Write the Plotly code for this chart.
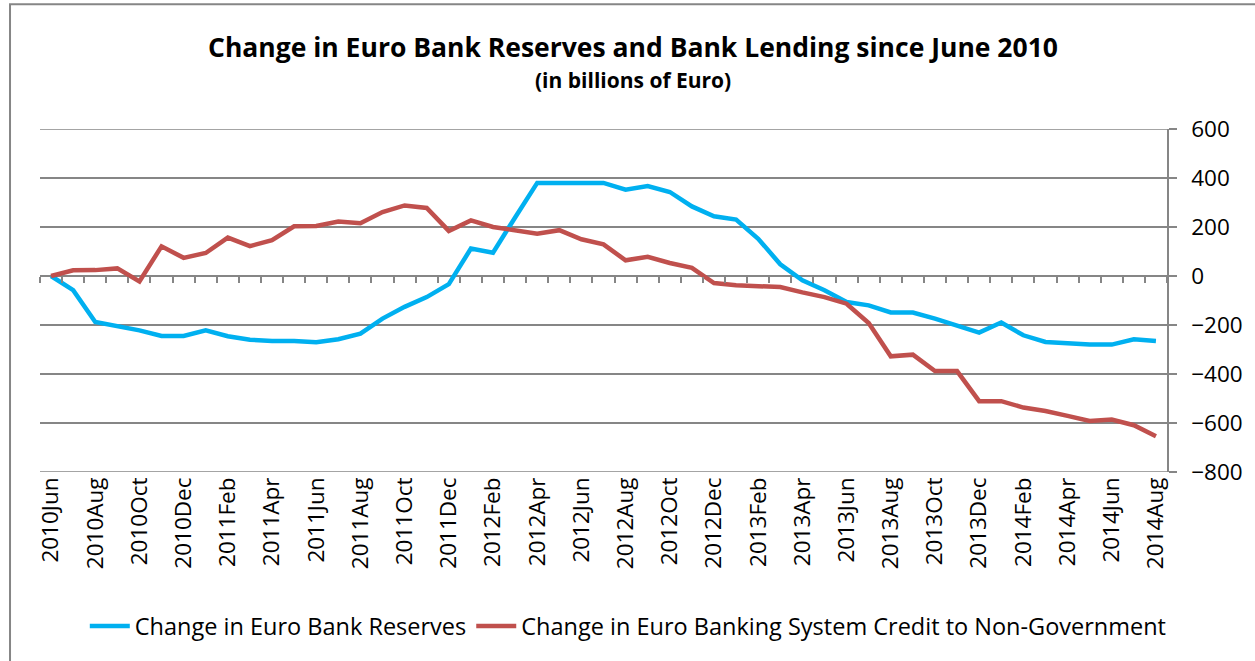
import plotly.graph_objects as go

months = ["Jun", "Jul", "Aug", "Sep", "Oct", "Nov", "Dec"] + \
    [m for y in range(3) for m in ["Jan", "Feb", "Mar", "Apr", "May", "Jun", "Jul", "Aug", "Sep", "Oct", "Nov", "Dec"]] + \
    ["Jan", "Feb", "Mar", "Apr", "May", "Jun", "Jul", "Aug"]
years = [2010] * 7 + [2011] * 12 + [2012] * 12 + [2013] * 12 + [2014] * 8
categories = [f"{y}{m}" for y, m in zip(years, months)]

reserves = [0, -58, -188, -204, -222, -245, -245, -222, -246, -260,
            -265, -265, -270, -258, -235, -174, -126, -86, -33, 112,
            95, 239, 380, 380, 380, 380, 352, 367, 343, 284,
            244, 230, 152, 48, -18, -58, -106, -120, -149, -149,
            -174, -204, -231, -190, -242, -269, -276, -280, -280, -258,
            -265]
credit = [0, 23, 24, 31, -22, 121, 74, 94, 157, 122,
          146, 203, 204, 222, 215, 261, 288, 278, 184, 227,
          200, 187, 173, 187, 150, 129, 64, 78, 53, 33,
          -29, -38, -41, -45, -67, -86, -113, -192, -328, -321,
          -388, -388, -511, -511, -537, -551, -571, -592, -586, -609,
          -654]

xi = list(range(len(categories)))
tick_idx = xi[::2]
tick_text = [categories[i] for i in tick_idx]
boundaries = [i - 0.5 for i in range(len(categories) + 1)]
y_ticks = [-800, -600, -400, -200, 0, 200, 400, 600]

GRID = "#868686"
FONT = "Open Sans"

fig = go.Figure()
fig.add_trace(go.Scatter(x=xi, y=reserves, mode="lines", name="Change in Euro Bank Reserves",
                         line=dict(color="#00B0F0", width=4.5)))
fig.add_trace(go.Scatter(x=xi, y=credit, mode="lines",
                         name="Change in Euro Banking System Credit to Non-Government",
                         line=dict(color="#C0504D", width=4.5)))
# invisible trace to activate the tick-mark axis at y=0
fig.add_trace(go.Scatter(x=[xi[0]], y=[0], xaxis="x2", mode="markers",
                         marker=dict(opacity=0), showlegend=False, hoverinfo="skip"))

y_min, y_max = y_ticks[0], y_ticks[-1]
edge_lines = [dict(type="line", xref="paper", yref="y", x0=0, x1=1.007, y0=v, y1=v,
                   line=dict(color=GRID, width=1.5), layer="below") for v in (y_min, y_max)]

fig.update_layout(
    width=1255, height=661,
    margin=dict(l=40, r=88, t=129, b=189),
    paper_bgcolor="white", plot_bgcolor="white",
    font=dict(family=FONT, color="black"),
    showlegend=True,
    legend=dict(orientation="h", x=0.522, xanchor="center", y=-0.45, yanchor="middle",
                font=dict(size=23.5, family=FONT), itemwidth=40, tracegroupgap=0,
                bgcolor="rgba(0,0,0,0)"),
    xaxis=dict(range=[-0.5, len(categories) - 0.5], tickmode="array", tickvals=tick_idx,
               ticktext=tick_text, tickangle=-90, showgrid=False, showline=False,
               zeroline=False, ticks="", tickfont=dict(size=22.5, family=FONT)),
    xaxis2=dict(overlaying="x", anchor="free", position=(0 - y_min) / (y_max - y_min), side="bottom",
                range=[-0.5, len(categories) - 0.5], tickmode="array", tickvals=boundaries,
                showticklabels=False, showgrid=False, showline=False, zeroline=False,
                ticks="outside", ticklen=6, tickwidth=1.5, tickcolor=GRID),
    yaxis=dict(side="right", range=[y_min, y_max], tickmode="array",
               tickvals=y_ticks,
               showgrid=True, gridcolor=GRID, gridwidth=1.5, zeroline=False,
               showline=True, linecolor=GRID, linewidth=1.5,
               ticks="outside", ticklen=8, tickwidth=1.5, tickcolor=GRID,
               ticklabelstandoff=10, tickfont=dict(size=22.5, family=FONT)),
    annotations=[
        dict(text="<b>Change in Euro Bank Reserves and Bank Lending since June 2010</b>",
             xref="paper", yref="paper", x=0.526, y=1.239, xanchor="center", yanchor="middle",
             showarrow=False, font=dict(size=26.5, family=FONT)),
        dict(text="<b>(in billions of Euro)</b>",
             xref="paper", yref="paper", x=0.526, y=1.143, xanchor="center", yanchor="middle",
             showarrow=False, font=dict(size=21, family=FONT)),
    ],
    shapes=[dict(type="rect", xref="paper", yref="paper", x0=-0.0266, x1=1.3, y0=-1.2, y1=1.364,
                 line=dict(color=GRID, width=2), fillcolor="rgba(0,0,0,0)", layer="below")]
           + edge_lines,
)

fig.write_html("out.html")
